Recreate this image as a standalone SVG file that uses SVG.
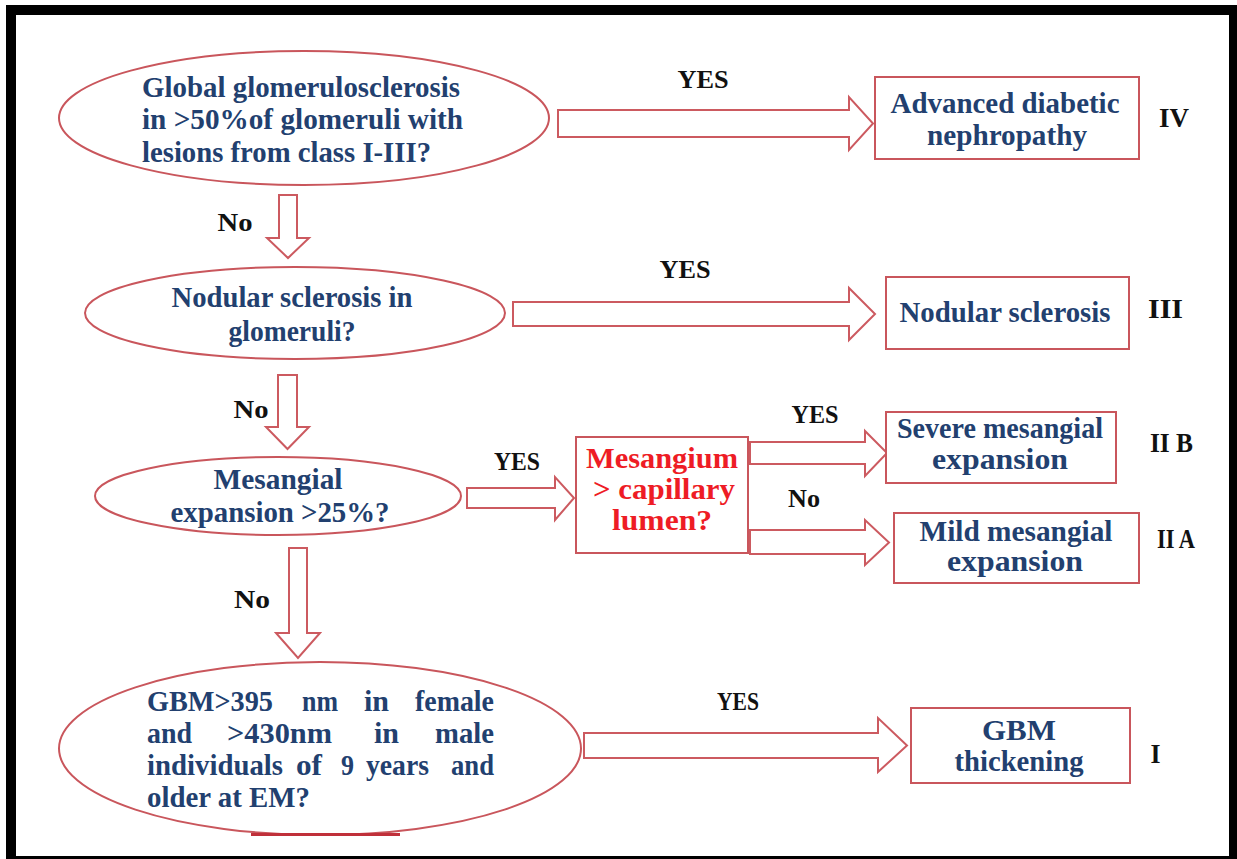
<svg xmlns="http://www.w3.org/2000/svg" width="1237" height="859" viewBox="0 0 1237 859">
<style>
.shape{fill:#fff;stroke:#c9565c;stroke-width:2}
.arrow{fill:#fff;stroke:#cc5a60;stroke-width:2;stroke-linejoin:miter}
.t{font-family:"Liberation Serif","Times New Roman",serif;font-weight:bold;font-size:30px;fill:#22406f}
.r{font-family:"Liberation Serif","Times New Roman",serif;font-weight:bold;font-size:30px;fill:#ee1c25}
.l{font-family:"Liberation Serif","Times New Roman",serif;font-weight:bold;font-size:26px;fill:#111}
.n{font-family:"Liberation Serif","Times New Roman",serif;font-weight:bold;font-size:28px;fill:#111}
.m{text-anchor:middle}
</style>
<rect x="0" y="0" width="1237" height="859" fill="#fff"/>
<rect x="6" y="5" width="1231" height="854" fill="#000"/>
<rect x="16" y="15" width="1213" height="841" fill="#fff"/>

<g id="connectors">
  <polygon class="arrow" points="558,110 849,110 849,97 873,123.5 849,150 849,137 558,137"/>
  <polygon class="arrow" points="513,302 849,302 849,288 875,314 849,340 849,326 513,326"/>
  <polygon class="arrow" points="467,488 555,488 555,477 574,498 555,520 555,508 467,508"/>
  <polygon class="arrow" points="750,442 865,442 865,431 887,453 865,476 865,464 750,464"/>
  <polygon class="arrow" points="750,530 865,530 865,520 889,542.5 865,565 865,554 750,554"/>
  <polygon class="arrow" points="584,733 878,733 878,718 907,745.5 878,772 878,758 584,758"/>
  <polygon class="arrow" points="279,195 297,195 297,238 309,238 288,258 267,238 279,238"/>
  <polygon class="arrow" points="278,375 297,375 297,427 309,427 287.5,449 266,427 278,427"/>
  <polygon class="arrow" points="289,548 307,548 307,633 320,633 298,658 276,633 289,633"/>
  <text class="l m" x="703" y="88" textLength="51" lengthAdjust="spacingAndGlyphs">YES</text>
  <text class="l m" x="685" y="278" textLength="51" lengthAdjust="spacingAndGlyphs">YES</text>
  <text class="l m" x="517" y="470" textLength="46" lengthAdjust="spacingAndGlyphs">YES</text>
  <text class="l m" x="815" y="423" textLength="47" lengthAdjust="spacingAndGlyphs">YES</text>
  <text class="l m" x="738" y="710" textLength="42" lengthAdjust="spacingAndGlyphs">YES</text>
  <text class="l m" x="804" y="507" textLength="32" lengthAdjust="spacingAndGlyphs">No</text>
  <text class="l m" x="235" y="231" textLength="35" lengthAdjust="spacingAndGlyphs">No</text>
  <text class="l m" x="251" y="418" textLength="35" lengthAdjust="spacingAndGlyphs">No</text>
  <text class="l m" x="252" y="608" textLength="36" lengthAdjust="spacingAndGlyphs">No</text>
</g>

<g id="q1">
  <ellipse class="shape" cx="304" cy="118" rx="245" ry="67"/>
  <text class="t" x="142" y="97" textLength="318" lengthAdjust="spacingAndGlyphs">Global glomerulosclerosis</text>
  <text class="t" x="142" y="129" textLength="321" lengthAdjust="spacingAndGlyphs">in &gt;50%of glomeruli with</text>
  <text class="t" x="142" y="162" textLength="289" lengthAdjust="spacingAndGlyphs">lesions from class I-III?</text>
</g>

<g id="r4">
  <rect class="shape" x="875" y="77" width="264" height="82"/>
  <text class="t m" x="1005" y="113" textLength="229" lengthAdjust="spacingAndGlyphs">Advanced diabetic</text>
  <text class="t m" x="1007" y="145" textLength="160" lengthAdjust="spacingAndGlyphs">nephropathy</text>
</g>
<g id="c4"><text class="n m" x="1174" y="127" textLength="30" lengthAdjust="spacingAndGlyphs">IV</text></g>

<g id="q2">
  <ellipse class="shape" cx="295" cy="313" rx="210" ry="46"/>
  <text class="t m" x="292" y="307" textLength="241" lengthAdjust="spacingAndGlyphs">Nodular sclerosis in</text>
  <text class="t m" x="292" y="341" textLength="127" lengthAdjust="spacingAndGlyphs">glomeruli?</text>
</g>

<g id="r3">
  <rect class="shape" x="886" y="277" width="243" height="72"/>
  <text class="t m" x="1005" y="322" textLength="211" lengthAdjust="spacingAndGlyphs">Nodular sclerosis</text>
</g>
<g id="c3"><text class="n m" x="1165.5" y="318" textLength="35" lengthAdjust="spacingAndGlyphs">III</text></g>

<g id="q3">
  <ellipse class="shape" cx="278" cy="496" rx="183" ry="39"/>
  <text class="t m" x="278" y="489" textLength="129" lengthAdjust="spacingAndGlyphs">Mesangial</text>
  <text class="t m" x="280" y="522" textLength="219" lengthAdjust="spacingAndGlyphs">expansion &gt;25%?</text>
</g>

<g id="q3b">
  <rect class="shape" x="576" y="437" width="172" height="116"/>
  <text class="r m" x="662" y="468" textLength="152" lengthAdjust="spacingAndGlyphs">Mesangium</text>
  <text class="r m" x="664" y="499" textLength="142" lengthAdjust="spacingAndGlyphs">&gt; capillary</text>
  <text class="r m" x="662" y="530" textLength="100" lengthAdjust="spacingAndGlyphs">lumen?</text>
</g>

<g id="r2b">
  <rect class="shape" x="886" y="412" width="230" height="71"/>
  <text class="t m" x="1000" y="438" textLength="206" lengthAdjust="spacingAndGlyphs">Severe mesangial</text>
  <text class="t m" x="1000" y="469" textLength="136" lengthAdjust="spacingAndGlyphs">expansion</text>
</g>
<g id="c2b"><text class="n m" x="1171.5" y="452" textLength="43" lengthAdjust="spacingAndGlyphs">II B</text></g>

<g id="r2a">
  <rect class="shape" x="894" y="513" width="245" height="70"/>
  <text class="t m" x="1016" y="541" textLength="193" lengthAdjust="spacingAndGlyphs">Mild mesangial</text>
  <text class="t m" x="1015" y="571" textLength="136" lengthAdjust="spacingAndGlyphs">expansion</text>
</g>
<g id="c2a"><text class="n m" x="1176" y="548" textLength="38" lengthAdjust="spacingAndGlyphs">II A</text></g>

<g id="q4">
  <ellipse class="shape" cx="320" cy="748.5" rx="261" ry="86.5"/>
  <path d="M251,834.5 L400,834.5" stroke="#c0303a" stroke-width="3" fill="none"/>
  <text class="t" y="711"><tspan x="147" textLength="126" lengthAdjust="spacingAndGlyphs">GBM&gt;395</tspan><tspan x="302" textLength="36" lengthAdjust="spacingAndGlyphs">nm</tspan><tspan x="364">in</tspan><tspan x="415" textLength="79" lengthAdjust="spacingAndGlyphs">female</tspan></text>
  <text class="t" y="743"><tspan x="147" textLength="45" lengthAdjust="spacingAndGlyphs">and</tspan><tspan x="227" textLength="105" lengthAdjust="spacingAndGlyphs">&gt;430nm</tspan><tspan x="374">in</tspan><tspan x="435" textLength="59" lengthAdjust="spacingAndGlyphs">male</tspan></text>
  <text class="t" y="775"><tspan x="147" textLength="136" lengthAdjust="spacingAndGlyphs">individuals</tspan><tspan x="296" textLength="26" lengthAdjust="spacingAndGlyphs">of</tspan><tspan x="341" textLength="13" lengthAdjust="spacingAndGlyphs">9</tspan><tspan x="366" textLength="63" lengthAdjust="spacingAndGlyphs">years</tspan><tspan x="451" textLength="43" lengthAdjust="spacingAndGlyphs">and</tspan></text>
  <text class="t" x="147" y="807" textLength="163" lengthAdjust="spacingAndGlyphs">older at EM?</text>
</g>

<g id="r1">
  <rect class="shape" x="911" y="708" width="219" height="75"/>
  <text class="t m" x="1019" y="740" textLength="74" lengthAdjust="spacingAndGlyphs">GBM</text>
  <text class="t m" x="1019" y="771" textLength="129" lengthAdjust="spacingAndGlyphs">thickening</text>
</g>
<g id="c1"><text class="n m" x="1155.5" y="763" textLength="10" lengthAdjust="spacingAndGlyphs">I</text></g>
</svg>
